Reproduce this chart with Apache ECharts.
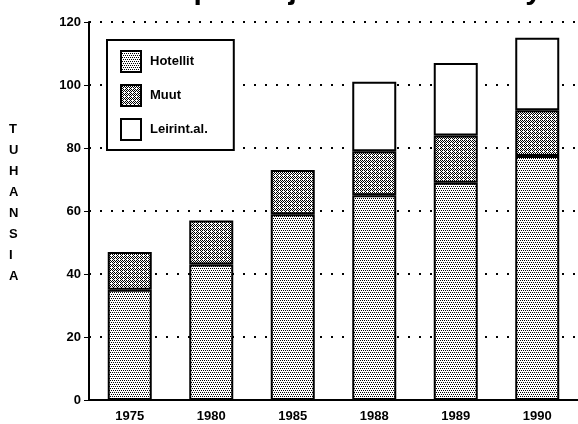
<!DOCTYPE html>
<html>
<head>
<meta charset="utf-8">
<script src="https://cdn.jsdelivr.net/npm/echarts@6/dist/echarts.min.js"></script>
<style>
  html, body { margin: 0; padding: 0; background: #fff; }
  #chart { width: 578px; height: 424px; }
</style>
</head>
<body>
<div id="chart"></div>
<script>
// vuodet ja sarjat (tuhansia)
const years = ['1975', '1980', '1985', '1988', '1989', '1990']
const hotellit = [35, 43, 59, 65, 69, 77.5]
const muut = [12, 14, 14, 14, 15, 14.5]
const leirinta = [0, 0, 0, 22, 23, 23]
const yTicks = [0, 20, 40, 60, 80, 100, 120]

// pistekuvio canvasilla
function makePattern(points, size) {
    const c = document.createElement('canvas')
    c.width = size
    c.height = size
    const ctx = c.getContext('2d')
    ctx.fillStyle = '#fff'
    ctx.fillRect(0, 0, size, size)
    ctx.fillStyle = '#000'
    points.forEach(p => ctx.fillRect(p[0], p[1], 1, 1))
    return { image: c, repeat: 'repeat' }
}

const hotelPattern = makePattern([[0, 0], [2, 0], [1, 2], [3, 2]], 4)
const muutPattern = makePattern([[0, 0], [1, 1], [2, 0], [3, 1], [0, 2], [2, 2], [1, 3]], 4)

const myChart = echarts.init(document.querySelector('#chart'))

const font = '"Liberation Sans", Arial, sans-serif'

const barBorder = {
    borderColor: '#000',
    borderWidth: 2
}

const option = {
    animation: false,
    title: {
        text: 'Vuodepaikkojen määrän kehitys',
        left: 98,
        top: -29,
        textStyle: {
            fontFamily: font,
            fontSize: 30,
            fontWeight: 'bold',
            color: '#000'
        }
    },
    graphic: [{
        type: 'text',
        left: 9,
        top: 119,
        style: {
            text: 'TUHANSIA'.split('').join('\n'),
            font: 'bold 13px ' + font,
            lineHeight: 21,
            fill: '#000',
            align: 'center'
        }
    }],
    legend: {
        orient: 'vertical',
        left: 107,
        top: 40,
        icon: 'rect',
        itemWidth: 20,
        itemHeight: 21,
        itemGap: 11,
        padding: [10, 26, 9, 13],
        backgroundColor: '#fff',
        borderColor: '#000',
        borderWidth: 2,
        textStyle: {
            fontFamily: font,
            fontSize: 13,
            fontWeight: 'bold',
            color: '#000',
            padding: [0, 0, 0, 4]
        },
        data: ['Hotellit', 'Muut', 'Leirint.al.']
    },
    grid: {
        left: 89,
        right: -5,
        top: 22,
        bottom: 24
    },
    xAxis: {
        type: 'category',
        data: years,
        axisLine: { lineStyle: { color: '#000', width: 2 } },
        axisTick: { show: false },
        axisLabel: {
            fontFamily: font,
            fontSize: 13,
            fontWeight: 'bold',
            color: '#000',
            margin: 10
        }
    },
    yAxis: {
        type: 'value',
        min: yTicks[0],
        max: yTicks[yTicks.length - 1],
        interval: 20,
        axisLine: { show: true, lineStyle: { color: '#000', width: 2 } },
        axisTick: { show: true, length: 5, lineStyle: { color: '#000', width: 1 } },
        axisLabel: {
            fontFamily: font,
            fontSize: 13,
            fontWeight: 'bold',
            color: '#000',
            margin: 8
        },
        splitLine: {
            lineStyle: {
                color: '#000',
                width: 2,
                type: [2, 9]
            }
        }
    },
    series: [
        {
            name: 'Hotellit',
            type: 'bar',
            stack: 'yht',
            barWidth: 44,
            data: hotellit,
            itemStyle: Object.assign({ color: hotelPattern }, barBorder)
        },
        {
            name: 'Muut',
            type: 'bar',
            stack: 'yht',
            data: muut,
            itemStyle: Object.assign({ color: muutPattern }, barBorder)
        },
        {
            name: 'Leirint.al.',
            type: 'bar',
            stack: 'yht',
            data: leirinta.map(v => v === 0 ? '-' : v),
            itemStyle: Object.assign({ color: '#fff' }, barBorder)
        }
    ]
}

myChart.setOption(option)
</script>
</body>
</html>
